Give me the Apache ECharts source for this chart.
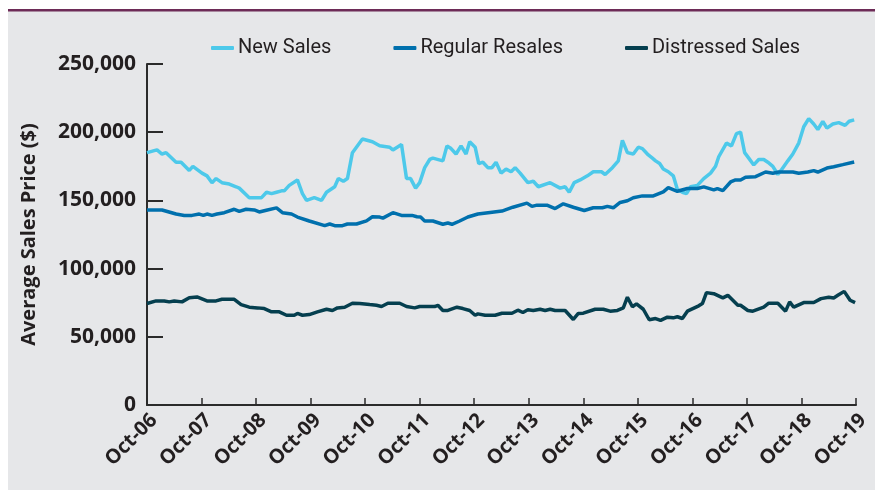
<!DOCTYPE html>
<html>
<head>
<meta charset="utf-8">
<script src="https://cdn.jsdelivr.net/npm/echarts@6/dist/echarts.min.js"></script>
<style>
  html, body { margin: 0; padding: 0; background: #e6e7e9; }
  #chart { width: 875px; height: 490px; }
</style>
</head>
<body>
<div id="chart"></div>
<script>
// month offsets counted from Oct-06 (0) to Oct-19 (156)
const yearLabels = ['Oct-06', 'Oct-07', 'Oct-08', 'Oct-09', 'Oct-10', 'Oct-11', 'Oct-12',
  'Oct-13', 'Oct-14', 'Oct-15', 'Oct-16', 'Oct-17', 'Oct-18', 'Oct-19'];

const newMonths = [0, 2.2, 3.3, 4.2, 6.4, 7.5, 9.3, 10.1, 12.1, 13.2, 14.3, 15.2, 16.5, 18.1, 19.6, 20.3,
  22.5, 23.6, 25.2, 26.3, 27.4, 28.5, 29.6, 30.2, 31.3, 33.1, 34.2, 35.1, 36.8, 38.4, 39.5, 41.3,
  42.1, 43.2, 44.1, 45.2, 47.4, 49.6, 51.2, 53.4, 54.1, 56.0, 57.1, 58.0, 59.1, 60.0, 61.1, 62.2,
  62.9, 65.1, 66.0, 66.9, 68.0, 69.1, 70.2, 71.0, 72.2, 73.0, 73.9, 75.0, 75.9, 76.8, 77.9, 79.0,
  80.1, 81.0, 82.1, 83.8, 85.0, 86.1, 88.7, 90.9, 92.0, 92.9, 94.0, 95.3, 96.9, 98.2, 100.0, 100.8,
  102.4, 103.7, 104.6, 105.7, 107.0, 108.1, 109.0, 110.1, 111.2, 111.9, 112.8, 113.6, 114.7, 115.8,
  116.7, 117.8, 118.7, 119.6, 121.1, 122.5, 124.0, 125.1, 125.8, 127.5, 128.6, 129.7, 130.6, 131.5,
  132.4, 133.5, 134.6, 135.7, 136.6, 137.7, 138.8, 139.5, 141.0, 142.1, 143.4, 144.5, 145.6, 146.7,
  147.6, 148.7, 149.6, 150.9, 152.2, 153.6, 154.5, 155.6];
const newSales = [185000, 187000, 184000, 185000, 178000, 178000, 172000, 175000, 170000, 168000,
  163000, 166000, 163000, 162000, 160000, 159000, 152000, 152000, 152000, 156000, 155000, 156000,
  157000, 157000, 161000, 165000, 155000, 150000, 152000, 150000, 156000, 160000, 166000, 164000,
  166000, 185000, 195000, 193000, 190000, 189000, 187000, 191000, 166000, 166000, 159000, 163000,
  174000, 180000, 181000, 179000, 190000, 188000, 184000, 190000, 184000, 193000, 189000, 177000,
  178000, 174000, 174000, 178000, 170000, 173000, 171000, 174000, 170000, 163000, 164000, 160000,
  163000, 159000, 160000, 156000, 163000, 165000, 168000, 171000, 171000, 169000, 174000, 179000,
  194000, 185000, 184000, 189000, 188000, 184000, 181000, 179000, 177000, 173000, 171000, 168000,
  158000, 156000, 155000, 160000, 161000, 166000, 170000, 175000, 182000, 192000, 190000, 199000,
  200000, 185000, 181000, 176000, 180000, 180000, 178000, 175000, 169000, 172000, 179000, 184000,
  192000, 204000, 210000, 206000, 202000, 208000, 203000, 206000, 207000, 205000, 208000, 209000];

const resaleMonths = [0, 3.3, 6.4, 8.2, 9.9, 11.5, 12.4, 13.2, 14.3, 15.4, 17.0, 19.2, 20.3, 21.8,
  23.6, 24.7, 26.5, 28.5, 29.8, 31.8, 33.1, 35.7, 39.1, 40.2, 41.3, 43.0, 44.1, 46.1, 48.3, 49.6,
  51.2, 51.9, 54.1, 56.0, 58.3, 59.4, 60.2, 61.1, 62.9, 65.1, 66.2, 67.1, 68.8, 70.6, 72.8, 75.5,
  78.1, 80.5, 83.6, 84.7, 85.8, 88.0, 89.8, 91.6, 93.8, 96.2, 98.2, 100.2, 101.3, 102.6, 104.1,
  105.7, 107.0, 109.0, 111.4, 113.6, 114.7, 116.7, 118.9, 121.1, 122.5, 124.7, 125.5, 126.7, 128.4,
  129.5, 130.6, 131.7, 133.9, 136.1, 137.7, 139.0, 142.1, 143.4, 145.4, 146.7, 147.6, 149.6, 151.1,
  153.1, 155.6];
const regularResales = [143000, 143000, 140000, 139000, 139000, 140000, 139000, 140000, 139000,
  140000, 141000, 143500, 142000, 143500, 143000, 141500, 143000, 144500, 141000, 140000, 137800,
  134900, 131500, 132700, 131500, 131500, 132700, 132700, 135000, 138000, 137800, 137000, 141000,
  139000, 139000, 138000, 137800, 134900, 134900, 132500, 133400, 132500, 134900, 137800, 140000,
  141200, 142200, 145000, 148000, 145600, 146500, 146500, 144000, 147500, 145000, 142600, 144600,
  144600, 145600, 144600, 148500, 149700, 151900, 153300, 153300, 156200, 159400, 156700, 158700,
  158700, 159900, 157700, 158700, 157200, 163500, 165000, 165000, 167000, 167400, 170800, 169900,
  170800, 170800, 169900, 170800, 171800, 170800, 173700, 174700, 176200, 178100];

const distressedMonths = [0, 2.0, 3.8, 4.9, 6.0, 7.7, 9.3, 11.0, 13.2, 15.2, 16.5, 19.2, 20.7,
  22.5, 24.3, 25.8, 27.4, 29.1, 30.7, 32.4, 33.1, 34.2, 35.7, 37.5, 39.5, 40.8, 41.9, 43.5, 45.2,
  46.8, 49.0, 50.5, 51.6, 53.0, 55.6, 57.1, 58.9, 60.0, 63.3, 64.0, 65.1, 66.2, 68.2, 69.5, 71.0,
  72.2, 72.8, 74.4, 76.6, 78.1, 80.3, 81.6, 82.7, 83.8, 85.0, 86.5, 87.6, 88.7, 89.8, 92.0, 93.8,
  94.9, 96.0, 98.6, 100.4, 101.9, 103.5, 104.8, 105.7, 106.8, 107.7, 109.2, 110.5, 111.9, 113.0,
  114.5, 115.8, 116.7, 117.8, 118.9, 121.4, 122.2, 123.1, 124.7, 126.7, 127.8, 128.9, 130.0, 130.6,
  132.2, 133.3, 135.7, 136.8, 138.8, 140.5, 141.4, 142.3, 144.5, 146.7, 148.3, 150.0, 151.1, 152.0,
  153.4, 154.7, 155.8];
const distressedSales = [74400, 76300, 76300, 75600, 76300, 75600, 78700, 79200, 76300, 76300,
  77500, 77500, 73600, 71700, 71200, 70700, 68300, 68300, 65800, 65800, 67100, 65800, 66300, 68300,
  70200, 69300, 71200, 71700, 74600, 74400, 73600, 73100, 72200, 74600, 74600, 72200, 71200, 72200,
  72200, 73100, 69300, 69300, 71700, 70700, 69300, 65800, 66800, 65800, 65800, 67300, 67300, 69500,
  67800, 69800, 69300, 70200, 69300, 70200, 69300, 69300, 62700, 67100, 67300, 70200, 70200, 68800,
  69300, 71200, 79000, 72000, 74100, 70200, 62500, 63400, 62000, 64400, 63900, 64700, 63400, 68800,
  72700, 74400, 82400, 81600, 78500, 80400, 76800, 73100, 73100, 69300, 68800, 71700, 74600, 74600,
  68800, 75600, 71700, 75100, 75100, 78000, 79000, 78500, 80400, 83300, 76800, 75100];

const pair = (xs, ys) => xs.map((x, i) => [x, ys[i]]);

const textColor = '#231f20';
const axisColor = '#2b2b2b';

const myChart = echarts.init(document.getElementById('chart'));
const option = {
  backgroundColor: '#e6e7e9',
  animation: false,
  graphic: [
    { type: 'rect', shape: { x: 0, y: 0, width: 875, height: 9 }, style: { fill: '#ffffff' } },
    { type: 'rect', shape: { x: 0, y: 0, width: 8, height: 490 }, style: { fill: '#ffffff' } },
    { type: 'rect', shape: { x: 8, y: 9, width: 867, height: 2.5 }, style: { fill: '#6d2b57' } }
  ],
  legend: {
    data: ['New Sales', 'Regular Resales', 'Distressed Sales'],
    left: 206,
    top: 33,
    icon: 'roundRect',
    itemWidth: 23,
    itemHeight: 4,
    itemGap: 62,
    textStyle: { fontFamily: 'Roboto', fontSize: 20, color: textColor, padding: [0, 0, 0, -1] }
  },
  grid: { left: 147, right: 19, top: 64, bottom: 85 },
  xAxis: {
    type: 'value',
    min: 0,
    max: 156,
    interval: 12,
    splitLine: { show: false },
    axisLine: { lineStyle: { color: axisColor, width: 2 } },
    axisTick: { inside: true, length: 7, lineStyle: { color: axisColor, width: 1.5 } },
    axisLabel: {
      rotate: 45,
      margin: 5,
      verticalAlign: 'top',
      fontFamily: 'Open Sans',
      fontWeight: 'bold',
      fontSize: 20,
      color: textColor,
      formatter: v => yearLabels[Math.round(v / 12)]
    }
  },
  yAxis: {
    type: 'value',
    min: 0,
    max: 250000,
    interval: 50000,
    name: 'Average Sales Price ($)',
    nameLocation: 'middle',
    nameGap: 108,
    nameTextStyle: { fontFamily: 'Open Sans', fontWeight: 'bold', fontSize: 20, color: textColor },
    splitLine: { show: false },
    axisLine: { show: true, lineStyle: { color: axisColor, width: 2 } },
    axisTick: { show: true, inside: true, length: 16, lineStyle: { color: axisColor, width: 2 } },
    axisLabel: {
      margin: 11,
      fontFamily: 'Open Sans',
      fontWeight: 'bold',
      fontSize: 21,
      color: textColor,
      formatter: v => v.toLocaleString('en-US')
    }
  },
  series: [
    {
      name: 'New Sales',
      type: 'line',
      showSymbol: false,
      color: '#4dc9ea',
      lineStyle: { width: 3.5 },
      data: pair(newMonths, newSales)
    },
    {
      name: 'Regular Resales',
      type: 'line',
      showSymbol: false,
      color: '#0070ad',
      lineStyle: { width: 3.5 },
      data: pair(resaleMonths, regularResales)
    },
    {
      name: 'Distressed Sales',
      type: 'line',
      showSymbol: false,
      color: '#053f4f',
      lineStyle: { width: 3.5 },
      data: pair(distressedMonths, distressedSales)
    }
  ]
};
option && myChart.setOption(option);
</script>
</body>
</html>
